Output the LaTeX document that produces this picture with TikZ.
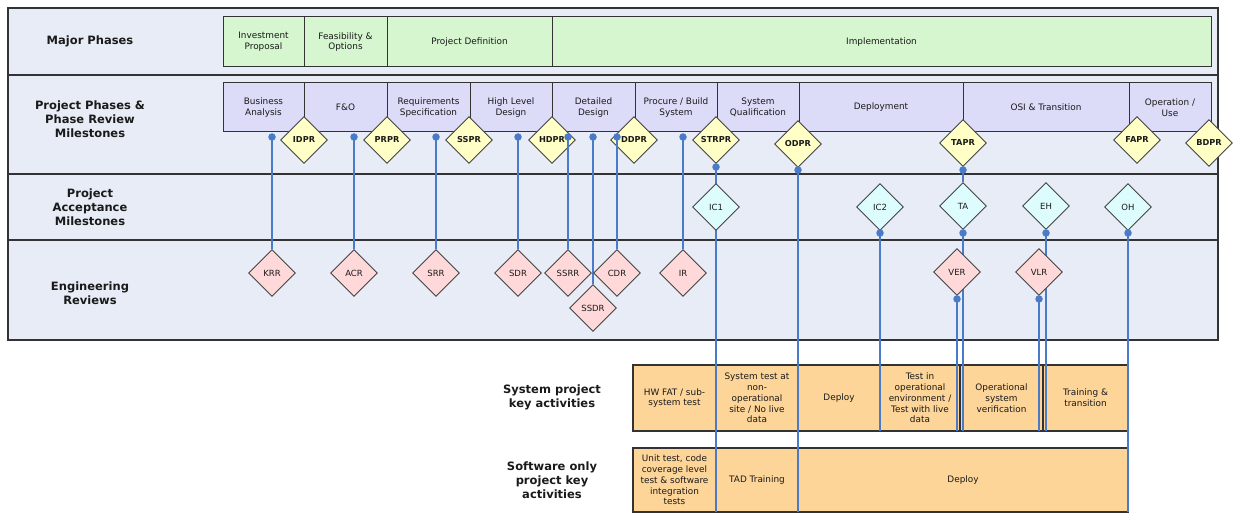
\documentclass[tikz,border=0pt]{standalone}
\usepackage{fontspec}
\setmainfont{DejaVu Sans}
\usetikzlibrary{shapes.geometric}
\pgfdeclarelayer{base}
\pgfdeclarelayer{lines}
\pgfsetlayers{base,lines,main}
\definecolor{framebg}{HTML}{E7ECF6}
\definecolor{bordc}{HTML}{333333}
\definecolor{greenc}{HTML}{D5F6CF}
\definecolor{lavc}{HTML}{DCDCF9}
\definecolor{yelc}{HTML}{FFFFC6}
\definecolor{cyanc}{HTML}{DDFCFD}
\definecolor{pinkc}{HTML}{FFD9D9}
\definecolor{orangec}{HTML}{FDD599}
\definecolor{bluec}{HTML}{4A7BC9}
\definecolor{diamc}{HTML}{444444}
\definecolor{txtc}{HTML}{1A1A1A}
\begin{document}
\begin{tikzpicture}[x=1pt,y=-1pt,
  every node/.style={text=txtc},
  rowlabel/.style={font=\bfseries\fontsize{11.5}{13.8}\selectfont, align=center, inner sep=0pt},
  boxbase/.style={draw=bordc, line width=1pt, align=center, inner sep=1pt,
     font=\fontsize{8.9}{10.8}\selectfont},
  phasebox/.style={boxbase, fill=greenc},
  subbox/.style={boxbase, fill=lavc},
  actbox/.style={boxbase, fill=orangec, line width=1.2pt},
  dia/.style={diamond, draw=diamc, line width=0.9pt, minimum width=47pt,
     minimum height=47pt, inner sep=0pt, font=\fontsize{8.5}{10}\selectfont},
  ydia/.style={dia, fill=yelc, font=\bfseries\fontsize{8.2}{10}\selectfont},
  cdia/.style={dia, fill=cyanc},
  pdia/.style={dia, fill=pinkc},
  conn/.style={draw=bluec, line width=2.5pt},
  dotc/.style={circle, fill=bluec, inner sep=0pt, minimum size=7.5pt}
]
\useasboundingbox (0,0) rectangle (1233,513);
\begin{pgfonlayer}{base}
% frame
\fill[framebg] (8,8) rectangle (1218,340);
\draw[bordc, line width=1.4pt] (8,8) rectangle (1218,340);
\draw[bordc, line width=1.4pt] (8,75) -- (1218,75);
\draw[bordc, line width=1.4pt] (8,174) -- (1218,174);
\draw[bordc, line width=1.4pt] (8,240) -- (1218,240);

% row labels
\node[rowlabel] (lmaj) at (90,41) {Major Phases};
\node[rowlabel] (lpp) at (90,119) {Project Phases \&\\Phase Review\\Milestones};
\node[rowlabel] (lpam) at (90,207) {Project\\Acceptance\\Milestones};
\node[rowlabel] (ler) at (90,293) {Engineering\\Reviews};
\node[rowlabel] (lsys) at (552,397) {System project\\key activities};
\node[rowlabel] (lsw) at (552,480) {Software only\\project key\\activities};

% major phases
\node[phasebox, minimum width=81pt, minimum height=50pt] (ip) at (263.5,42) {Investment\\Proposal};
\node[phasebox, minimum width=83pt, minimum height=50pt] (fo) at (345.5,42) {Feasibility \&\\Options};
\node[phasebox, minimum width=165pt, minimum height=50pt] (pd) at (469.5,42) {Project Definition};
\node[phasebox, minimum width=659pt, minimum height=50pt] (impl) at (881.5,42) {Implementation};

% project phases
\node[subbox, minimum width=81pt, minimum height=49pt] (ba) at (263.5,107.5) {Business\\Analysis};
\node[subbox, minimum width=83pt, minimum height=49pt] (fno) at (345.5,107.5) {F\&O};
\node[subbox, minimum width=83pt, minimum height=49pt] (rs) at (428.5,107.5) {Requirements\\Specification};
\node[subbox, minimum width=82pt, minimum height=49pt] (hld) at (511,107.5) {High Level\\Design};
\node[subbox, minimum width=83pt, minimum height=49pt] (dd) at (593.5,107.5) {Detailed\\Design};
\node[subbox, minimum width=82pt, minimum height=49pt] (pbs) at (676,107.5) {Procure / Build\\System};
\node[subbox, minimum width=82pt, minimum height=49pt] (sq) at (758,107.5) {System\\Qualification};
\node[subbox, minimum width=164pt, minimum height=49pt] (dep) at (881,107.5) {Deployment};
\node[subbox, minimum width=166pt, minimum height=49pt] (osi) at (1046,107.5) {OSI \& Transition};
\node[subbox, minimum width=82pt, minimum height=49pt] (ou) at (1170,107.5) {Operation /\\Use};

% activity boxes
\node[actbox, minimum width=83pt, minimum height=66pt] (hw) at (674.5,398) {HW FAT / sub-\\system test};
\node[actbox, minimum width=82pt, minimum height=66pt] (st) at (757,398) {System test at\\non-\\operational\\site / No live\\data};
\node[actbox, minimum width=82pt, minimum height=66pt] (dp1) at (839,398) {Deploy};
\node[actbox, minimum width=80pt, minimum height=66pt] (tope) at (920,398) {Test in\\operational\\environment /\\Test with live\\data};
\node[actbox, minimum width=83pt, minimum height=66pt] (osv) at (1001.5,398) {Operational\\system\\verification};
\node[actbox, minimum width=85pt, minimum height=66pt] (tt) at (1085.5,398) {Training \&\\transition};
\node[actbox, minimum width=83pt, minimum height=64pt] (ut) at (674.5,480) {Unit test, code\\coverage level\\test \& software\\integration\\tests};
\node[actbox, minimum width=82pt, minimum height=64pt] (tad) at (757,480) {TAD Training};
\node[actbox, minimum width=330pt, minimum height=64pt] (dp2) at (963,480) {Deploy};

% yellow phase review diamonds
\node[ydia] (idpr) at (304,140) {IDPR};
\node[ydia] (prpr) at (387,140) {PRPR};
\node[ydia] (sspr) at (469,140) {SSPR};
\node[ydia] (hdpr) at (552,140) {HDPR};
\node[ydia] (ddpr) at (634,140) {DDPR};
\node[ydia] (strpr) at (716,140) {STRPR};
\node[ydia] (odpr) at (798,144) {ODPR};
\node[ydia] (tapr) at (963,143) {TAPR};
\node[ydia] (fapr) at (1137,140) {FAPR};
\node[ydia] (bdpr) at (1209,143) {BDPR};
\end{pgfonlayer}

% acceptance milestones
\node[cdia] (ic1) at (716,207) {IC1};
\node[cdia] (ic2) at (880,207) {IC2};
\node[cdia] (ta) at (963,206) {TA};
\node[cdia] (eh) at (1046,206) {EH};
\node[cdia] (oh) at (1128,207) {OH};

% engineering reviews
\node[pdia] (krr) at (272,273) {KRR};
\node[pdia] (acr) at (354,273) {ACR};
\node[pdia] (srr) at (436,273) {SRR};
\node[pdia] (sdr) at (518,273) {SDR};
\node[pdia] (ssrr) at (568,273) {SSRR};
\node[pdia] (cdr) at (617,273) {CDR};
\node[pdia] (ssdr) at (593,308) {SSDR};
\node[pdia] (ir) at (683,273) {IR};
\node[pdia] (ver) at (957,272) {VER};
\node[pdia] (vlr) at (1039,272) {VLR};

% connector start dots
\node[dotc] (d1) at (272,137) {};
\node[dotc] (d2) at (354,137) {};
\node[dotc] (d3) at (436,137) {};
\node[dotc] (d4) at (518,137) {};
\node[dotc] (d5) at (568,137) {};
\node[dotc] (d6) at (593,137) {};
\node[dotc] (d7) at (617,137) {};
\node[dotc] (d8) at (683,137) {};
\node[dotc] (dstr) at (716,167) {};
\node[dotc] (dodp) at (798,170) {};
\node[dotc] (dtap) at (963,170) {};
\node[dotc] (dic2) at (880,233) {};
\node[dotc] (dta) at (963,233) {};
\node[dotc] (deh) at (1046,233) {};
\node[dotc] (doh) at (1128,233) {};
\node[dotc] (dver) at (957,299) {};
\node[dotc] (dvlr) at (1039,299) {};

% connector end points
\coordinate (eic1) at (716,512);
\coordinate (eodp) at (798,512);
\coordinate (eic2) at (880,431);
\coordinate (eta) at (963,431);
\coordinate (eeh) at (1046,431);
\coordinate (eoh) at (1128,512);
\coordinate (ever) at (957,431);
\coordinate (evlr) at (1039,431);

% connectors (below the milestone diamonds, above the boxes)
\begin{pgfonlayer}{lines}
\draw[conn] (d1.center) -- (krr.north);
\draw[conn] (d2.center) -- (acr.north);
\draw[conn] (d3.center) -- (srr.north);
\draw[conn] (d4.center) -- (sdr.north);
\draw[conn] (d5.center) -- (ssrr.north);
\draw[conn] (d6.center) -- (ssdr.north);
\draw[conn] (d7.center) -- (cdr.north);
\draw[conn] (d8.center) -- (ir.north);
\draw[conn] (dstr.center) -- (eic1);
\draw[conn] (dodp.center) -- (eodp);
\draw[conn] (dtap.center) -- (ta.north);
\draw[conn] (dic2.center) -- (eic2);
\draw[conn] (dta.center) -- (eta);
\draw[conn] (deh.center) -- (eeh);
\draw[conn] (doh.center) -- (eoh);
\draw[conn] (dver.center) -- (ever);
\draw[conn] (dvlr.center) -- (evlr);
\end{pgfonlayer}
\end{tikzpicture}
\end{document}
